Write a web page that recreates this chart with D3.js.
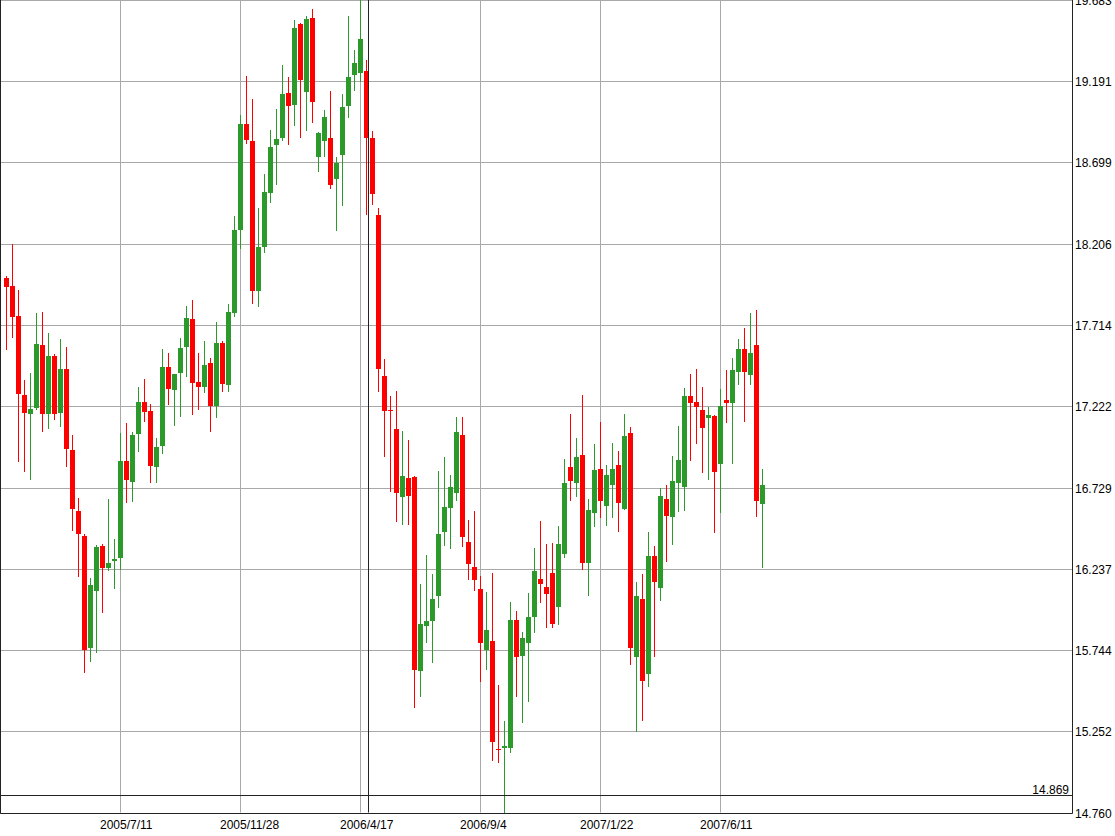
<!DOCTYPE html>
<html>
<head>
<meta charset="utf-8">
<script src="https://cdn.jsdelivr.net/npm/d3@7"></script>
<style>
  body { margin: 0; background: #fff; }
  svg { display: block; }
  text { font-family: "Liberation Sans", Arial, sans-serif; font-size: 12px; fill: #000; }
</style>
</head>
<body>
<svg id="chart" width="1115" height="836"></svg>
<script>
// weekly candles, first week
const startDate = '2005/2/28';

const opens = [
  18.000, 17.950, 17.768, 17.290, 17.173, 17.213, 17.593, 17.173, 17.526, 17.179,
  17.447, 16.956, 16.587, 16.435, 15.758, 16.104, 16.375, 16.240, 16.284, 16.300,
  16.890, 16.764, 17.053, 17.245, 17.193, 16.855, 16.982, 17.458, 17.320, 17.425,
  17.582, 17.750, 17.368, 17.340, 17.485, 17.223, 17.607, 17.350, 17.788, 18.289,
  18.932, 18.829, 17.922, 18.188, 18.515, 18.804, 18.849, 19.118, 19.047, 19.536,
  19.127, 19.576, 18.734, 18.831, 18.849, 18.598, 18.744, 19.043, 19.229, 19.243,
  19.250, 18.844, 18.383, 17.407, 17.200, 17.084, 16.674, 16.786, 16.793, 15.620,
  15.892, 15.923, 16.074, 16.462, 16.602, 16.695, 17.050, 16.402, 16.247, 16.117,
  15.746, 15.800, 15.145, 15.151, 15.153, 15.926, 15.710, 15.785, 15.946, 16.175,
  16.128, 16.209, 16.007, 16.324, 16.852, 16.758, 16.926, 16.270, 16.573, 16.841,
  16.619, 16.744, 16.866, 16.597, 17.058, 15.704, 16.054, 15.599, 16.314, 16.118,
  16.660, 16.552, 16.755, 16.730, 17.284, 17.249, 17.199, 17.148, 17.162, 16.870,
  17.259, 17.239, 17.427, 17.567, 17.411, 17.593, 16.629
];
const highs = [
  18.011, 18.205, 17.926, 17.381, 17.421, 17.785, 17.794, 17.663, 17.538, 17.629,
  17.582, 17.047, 16.667, 16.447, 16.179, 16.381, 16.387, 16.660, 16.415, 17.058,
  17.118, 17.067, 17.340, 17.387, 17.233, 17.027, 17.568, 17.542, 17.417, 17.633,
  17.829, 17.865, 17.546, 17.617, 17.512, 17.730, 17.619, 17.841, 18.374, 18.986,
  19.223, 19.083, 18.421, 18.629, 18.895, 19.023, 19.289, 19.215, 19.562, 19.546,
  19.588, 19.628, 18.885, 19.017, 19.133, 18.730, 19.112, 19.588, 19.380, 19.683,
  19.320, 18.888, 18.422, 17.508, 17.282, 17.316, 17.070, 17.016, 16.799, 16.143,
  16.320, 16.208, 16.829, 16.912, 16.804, 17.158, 17.158, 16.532, 16.584, 16.195,
  16.097, 16.209, 15.533, 15.314, 16.037, 15.981, 15.852, 16.088, 16.361, 16.526,
  16.387, 16.391, 16.496, 16.902, 17.175, 17.027, 17.290, 16.658, 16.993, 17.128,
  16.866, 16.997, 16.950, 17.175, 17.098, 16.157, 16.205, 16.458, 16.375, 16.724,
  16.744, 16.920, 17.102, 17.330, 17.417, 17.447, 17.336, 17.219, 17.168, 17.324,
  17.441, 17.512, 17.629, 17.694, 17.785, 17.805, 16.840
];
const lows = [
  17.562, 17.637, 16.882, 16.825, 16.775, 17.199, 17.067, 17.084, 17.138, 17.098,
  16.855, 16.467, 16.189, 15.603, 15.674, 15.728, 15.967, 16.225, 16.112, 16.229,
  16.638, 16.643, 16.946, 17.128, 16.758, 16.755, 16.930, 17.229, 17.102, 17.158,
  17.401, 17.168, 17.199, 17.304, 17.067, 17.148, 17.310, 17.310, 17.764, 18.173,
  18.810, 17.841, 17.821, 18.152, 18.451, 18.562, 18.831, 18.804, 18.920, 18.845,
  18.891, 18.940, 18.643, 18.730, 18.538, 18.285, 18.437, 18.970, 19.133, 19.188,
  18.380, 18.443, 17.308, 16.912, 16.700, 16.519, 16.501, 16.501, 15.393, 15.457,
  15.789, 15.665, 16.001, 16.377, 16.358, 16.648, 16.371, 16.169, 16.104, 15.553,
  15.626, 15.074, 15.058, 14.760, 15.122, 15.462, 15.300, 15.431, 15.846, 16.031,
  15.876, 15.880, 15.896, 16.304, 16.649, 16.673, 16.229, 16.074, 16.492, 16.543,
  16.496, 16.546, 16.461, 16.593, 15.654, 15.246, 15.316, 15.519, 15.704, 16.043,
  16.280, 16.381, 16.583, 16.589, 16.892, 16.991, 16.819, 16.775, 16.452, 16.573,
  17.118, 16.870, 17.350, 17.128, 17.350, 16.552, 16.243
];
const closes = [
  17.946, 17.764, 17.294, 17.182, 17.205, 17.599, 17.173, 17.526, 17.173, 17.447,
  16.961, 16.601, 16.446, 15.745, 16.138, 16.371, 16.240, 16.274, 16.293, 16.890,
  16.772, 17.047, 17.245, 17.188, 16.861, 16.975, 17.458, 17.326, 17.414, 17.573,
  17.758, 17.364, 17.340, 17.471, 17.223, 17.607, 17.356, 17.793, 18.289, 18.932,
  18.835, 17.922, 18.188, 18.520, 18.792, 18.841, 19.113, 19.041, 19.512, 19.198,
  19.568, 19.067, 18.879, 18.976, 18.562, 18.697, 19.037, 19.215, 19.303, 19.447,
  18.844, 18.505, 17.446, 17.192, 17.193, 16.695, 16.799, 16.680, 15.625, 15.903,
  15.918, 16.053, 16.446, 16.609, 16.731, 17.068, 16.428, 16.268, 16.169, 15.789,
  15.868, 15.185, 15.136, 15.163, 15.926, 15.700, 15.815, 15.943, 16.223, 16.143,
  16.082, 15.902, 16.387, 16.755, 16.770, 16.912, 16.274, 16.593, 16.835, 16.649,
  16.805, 16.841, 16.637, 17.041, 15.755, 16.072, 15.559, 16.314, 16.158, 16.678,
  16.558, 16.769, 16.896, 17.284, 17.239, 17.219, 17.088, 17.169, 16.825, 17.223,
  17.239, 17.441, 17.567, 17.431, 17.546, 16.647, 16.744
];

const priceTicks = ['14.760', '15.252', '15.744', '16.237', '16.729', '17.222',
                    '17.714', '18.206', '18.699', '19.191', '19.683'];
const dateTicks = ['2005/7/11', '2005/11/28', '2006/4/17', '2006/9/4', '2007/1/22', '2007/6/11'];

// cursor crosshair (slot position, price)
const cursorSlot = 60.33;
const cursorPrice = 14.869;

const upColor = '#2b9a2b';
const downColor = '#ff0000';

let svg = d3.select('#chart');
let plotW = 1072;
let plotH = 812.5;

let parse = d3.timeParse('%Y/%m/%d');
let fmt = d => d.getFullYear() + '/' + (d.getMonth() + 1) + '/' + d.getDate();
let first = parse(startDate);
let candles = opens.map(function(o, i) {
  return {
    i: i,
    date: fmt(d3.timeWeek.offset(first, i)),
    o: o, h: highs[i], l: lows[i], c: closes[i]
  };
});

// one slot = 6px, first candle on slot 0
let x = d3.scaleLinear()
  .domain([-1, plotW / 6 - 1])
  .range([0, plotW]);
let y = d3.scaleLinear()
  .domain([+priceTicks[0], +priceTicks[priceTicks.length - 1]])
  .range([plotH, 0]);

let px = v => Math.round(v) + 0.5;

svg.append('defs').append('clipPath').attr('id', 'plot')
  .append('rect').attr('x', 0).attr('y', 0).attr('width', plotW).attr('height', plotH + 1);

// grid
let grid = svg.append('g').attr('stroke', '#a8a8a8').attr('stroke-width', 1);
grid.selectAll('.hg')
  .data(priceTicks)
.enter().append('line')
  .attr('x1', 0).attr('x2', plotW)
  .attr('y1', d => px(y(+d))).attr('y2', d => px(y(+d)));

let tickSlots = dateTicks.map(t => candles.findIndex(d => d.date === t));
grid.selectAll('.vg')
  .data(tickSlots)
.enter().append('line')
  .attr('y1', 0).attr('y2', plotH)
  .attr('x1', d => Math.round(x(d)) + 0.5).attr('x2', d => Math.round(x(d)) + 0.5);

// candles
let g = svg.append('g').attr('clip-path', 'url(#plot)');
let candle = g.selectAll('.candle')
  .data(candles)
.enter().append('g')
  .attr('class', 'candle');

candle.append('line')
  .attr('x1', d => Math.round(x(d.i)) + 0.5)
  .attr('x2', d => Math.round(x(d.i)) + 0.5)
  .attr('y1', d => Math.round(y(d.h)))
  .attr('y2', d => Math.round(y(d.l)))
  .attr('stroke', d => d.c >= d.o ? upColor : downColor)
  .attr('stroke-width', 1);

candle.append('rect')
  .attr('x', d => Math.round(x(d.i)) - 2)
  .attr('width', 5)
  .attr('y', d => Math.round(y(Math.max(d.o, d.c))))
  .attr('height', d => Math.max(1, Math.round(y(Math.min(d.o, d.c))) - Math.round(y(Math.max(d.o, d.c)))))
  .attr('fill', d => d.c >= d.o ? upColor : downColor);

// crosshair
let cx = px(x(cursorSlot));
let cy = px(y(cursorPrice));
svg.append('line')
  .attr('x1', cx).attr('x2', cx).attr('y1', 0).attr('y2', plotH)
  .attr('stroke', '#222');
svg.append('line')
  .attr('x1', 0).attr('x2', plotW).attr('y1', cy).attr('y2', cy)
  .attr('stroke', '#222');
svg.append('text')
  .attr('x', plotW - 3).attr('y', cy - 2)
  .attr('text-anchor', 'end')
  .text(cursorPrice.toFixed(3));

// frame: left edge, right axis, bottom axis
svg.append('path')
  .attr('d', 'M0.5,0V' + px(plotH) + 'H' + (plotW + 0.5) + 'V0')
  .attr('fill', 'none')
  .attr('stroke', '#222');

// price labels
svg.selectAll('.ylab')
  .data(priceTicks)
.enter().append('text')
  .attr('x', plotW + 3)
  .attr('y', d => y(+d) + 5)
  .text(d => d);

// date labels
svg.selectAll('.xlab')
  .data(dateTicks)
.enter().append('text')
  .attr('x', (d, k) => x(tickSlots[k]) - 20)
  .attr('y', 829)
  .text(d => d);
</script>
</body>
</html>
